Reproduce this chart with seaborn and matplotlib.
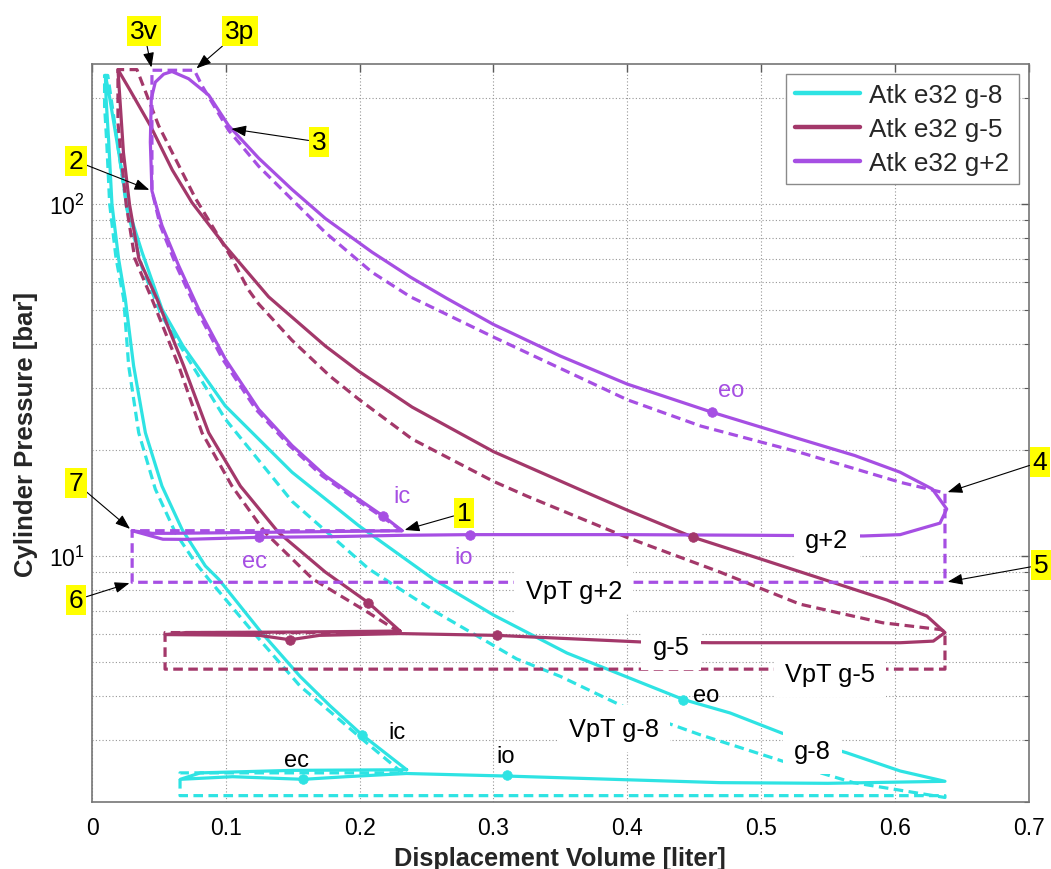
import matplotlib
matplotlib.use("Agg")
import numpy as np
import matplotlib.pyplot as plt
import seaborn as sns
from matplotlib.lines import Line2D
from matplotlib.ticker import FixedLocator, LogLocator, NullFormatter

# ---------------------------------------------------------------------------
# Cycle data: displacement volume [liter] and cylinder pressure [bar]
# ---------------------------------------------------------------------------
series_names = ["Atk e32 g-8", "Atk e32 g-5", "Atk e32 g+2"]

# Atk e32 g-8 : simulated cycle
g8_vol = [0.2352, 0.2015, 0.1780, 0.1555, 0.1260, 0.0947, 0.0847, 0.0673, 0.0523, 0.0399,
          0.0311, 0.0249, 0.0199, 0.0149, 0.0125, 0.0105, 0.0100,
          0.0125, 0.0200, 0.0260, 0.0374, 0.0523, 0.0680, 0.0996, 0.1495, 0.1993, 0.2551,
          0.3000, 0.3550, 0.4420, 0.4770, 0.5155, 0.5640, 0.6040, 0.6375,
          0.5500, 0.4694, 0.3100, 0.2350, 0.1900, 0.1580, 0.1050, 0.0660, 0.0810, 0.1500, 0.2352]
g8_pres = [2.47, 3.11, 3.75, 4.55, 6.10, 8.59, 9.37, 11.9, 15.8, 22.4,
           34.7, 53.7, 69.8, 100, 150, 200, 232,
           208, 140, 100, 73, 50.3, 39.5, 26.7, 17.3, 12.2, 8.6,
           6.8, 5.3, 3.91, 3.58, 3.14, 2.76, 2.45, 2.29,
           2.26, 2.27, 2.37, 2.41, 2.36, 2.32, 2.36, 2.32, 2.42, 2.46, 2.47]
# Atk e32 g-8 : ideal VpT cycle
g8_vpt_vol = [0.2320, 0.2050, 0.1555, 0.1200, 0.0872, 0.0772, 0.0623, 0.0473, 0.0349, 0.0274,
              0.0237, 0.0180, 0.0132, 0.0110, 0.0094, 0.0094, 0.0118, 0.0160, 0.0260, 0.0374,
              0.0523, 0.0996, 0.1495, 0.2067, 0.2551, 0.3174, 0.3500, 0.4020, 0.4540, 0.5290,
              0.5690, 0.6375, 0.6375, 0.0658, 0.0658, 0.2320]
g8_vpt_pres = [2.42, 2.95, 4.27, 6.1, 8.59, 9.58, 11.65, 15.5, 22.4, 34.7,
               53.7, 70, 100, 150, 190, 232, 232, 180, 97, 66,
               48, 24.5, 14.3, 9.2, 7.0, 5.1, 4.55, 3.66, 3.11, 2.52,
               2.27, 2.06, 2.085, 2.085, 2.42, 2.42]
# valve events ic, eo, ec, io
g8_event_vol = [0.2015, 0.4420, 0.1580, 0.3100]
g8_event_pres = [3.11, 3.91, 2.32, 2.39]

# Atk e32 g-5 : simulated cycle
g5_vol = [0.2302, 0.2065, 0.1744, 0.1395, 0.1109, 0.0872, 0.0685, 0.0486, 0.0350, 0.0280,
          0.0235, 0.0194,
          0.0280, 0.0436, 0.0600, 0.0747, 0.0996, 0.1320, 0.1420, 0.1744, 0.1993, 0.2392,
          0.3000, 0.3670, 0.4000, 0.4494, 0.5000, 0.5460, 0.5940, 0.6240, 0.6375,
          0.6288, 0.6040, 0.4631, 0.4096, 0.3024, 0.2302, 0.1700, 0.1480, 0.1250, 0.0546,
          0.0700, 0.1500, 0.2302]
g5_pres = [6.12, 7.37, 9.0, 11.65, 15.8, 22.4, 34.7, 53.7, 70, 100,
           140, 241,
           212, 167, 125, 101, 76, 54.5, 50.5, 39.5, 33.5, 26.5,
           19.8, 15.3, 13.5, 11.3, 9.8, 8.6, 7.5, 6.75, 6.06,
           5.73, 5.67, 5.67, 5.70, 5.95, 6.02, 5.95, 5.78, 5.95, 5.98,
           6.06, 6.08, 6.12]
# Atk e32 g-5 : ideal VpT cycle
g5_vpt_vol = [0.2302, 0.2040, 0.1650, 0.1295, 0.1046, 0.0822, 0.0648, 0.0448, 0.0320, 0.0255,
              0.0215, 0.0194, 0.0194, 0.0336, 0.0498, 0.0772, 0.1046, 0.1170, 0.1246, 0.1495,
              0.1780, 0.1993, 0.2392, 0.3000, 0.3250, 0.3996, 0.4694, 0.5290, 0.5910, 0.6340,
              0.6375, 0.6375, 0.0546, 0.0546, 0.2302]
g5_vpt_pres = [6.06, 7.0, 8.6, 11.65, 15.8, 22.4, 34.7, 53.7, 70, 100,
               140, 170, 241, 241, 167, 104, 70, 57, 52, 41,
               32.4, 27.9, 21.5, 16.3, 14.8, 11.3, 9.0, 7.3, 6.46, 6.18,
               6.1, 4.77, 4.77, 6.06, 6.06]
g5_event_vol = [0.2065, 0.4494, 0.1480, 0.3024]
g5_event_pres = [7.37, 11.3, 5.78, 5.98]

# Atk e32 g+2 : simulated cycle
g2_vol = [0.2317, 0.2192, 0.1993, 0.1744, 0.1495, 0.1246, 0.0996, 0.0797, 0.0648, 0.0523,
          0.0448, 0.0436, 0.0443, 0.0473, 0.0536, 0.0598, 0.0722, 0.0872, 0.1021, 0.1246,
          0.1495, 0.1744, 0.2093, 0.2380, 0.2650, 0.3000, 0.3500, 0.4000, 0.4636, 0.5290,
          0.5700, 0.6040, 0.6280, 0.6388, 0.6338, 0.6040, 0.5765, 0.5000, 0.4000, 0.2825,
          0.2317, 0.1800, 0.1250, 0.0700, 0.0530, 0.0300, 0.0450, 0.0600, 0.1500, 0.2317]
g2_pres = [11.8, 12.86, 14.5, 16.9, 20.6, 26.1, 36.3, 50.3, 66.8, 86.9,
           109, 150, 199, 222, 234, 238, 227, 204, 167, 135,
           110, 91, 73, 62, 54, 45.5, 37, 30.8, 25.6, 21.5,
           19.3, 17.3, 15.5, 13.6, 12.4, 11.5, 11.4, 11.45, 11.5, 11.5,
           11.45, 11.35, 11.3, 11.15, 11.16, 11.8, 11.6, 11.6, 11.7, 11.8]
# Atk e32 g+2 : ideal VpT cycle (state points 1-2-3v-3p-3-4-5-6-7)
g2_vpt_vol = [0.2317, 0.2170, 0.1970, 0.1720, 0.1475, 0.1225, 0.0975, 0.0780, 0.0630, 0.0510,
              0.0448, 0.0448, 0.0765, 0.0822, 0.1021, 0.1246, 0.1495, 0.1744, 0.2093, 0.2380,
              0.3000, 0.4000, 0.4550, 0.5290, 0.6040, 0.6375, 0.6375, 0.0300, 0.0300, 0.2317]
g2_vpt_pres = [11.8, 12.9, 14.5, 16.9, 20.6, 26.1, 36.3, 50.3, 66.8, 86.9,
               109, 240, 240, 217, 162, 128, 103, 83, 64, 54.5,
               41.9, 27.8, 23.4, 19.7, 16.2, 15.1, 8.42, 8.42, 11.8, 11.8]
g2_event_vol = [0.2177, 0.4636, 0.1250, 0.2825]
g2_event_pres = [13.0, 25.6, 11.3, 11.5]

event_names = ["ic", "eo", "ec", "io"]

# VpT g+2 state points that carry a callout
state_names = ["3v", "3p", "2", "3", "1", "4", "5", "6", "7"]
state_vol = [0.0448, 0.0765, 0.0448, 0.1021, 0.2317, 0.6375, 0.6375, 0.0300, 0.0300]
state_pres = [240, 240, 109, 164, 11.8, 15.1, 8.42, 8.42, 11.8]

x_ticks = [0, 0.1, 0.2, 0.3, 0.4, 0.5, 0.6, 0.7]
x_tick_labels = ["0", "0.1", "0.2", "0.3", "0.4", "0.5", "0.6", "0.7"]

# ---------------------------------------------------------------------------
# Style
# ---------------------------------------------------------------------------
sns.set_theme(style="white")
plt.rcParams["font.family"] = ["Liberation Sans", "DejaVu Sans"]
plt.rcParams["mathtext.fontset"] = "custom"
plt.rcParams["mathtext.rm"] = "Liberation Sans"
plt.rcParams["mathtext.it"] = "Liberation Sans:italic"
plt.rcParams["mathtext.bf"] = "Liberation Sans:bold"
plt.rcParams["mathtext.default"] = "regular"

CYAN = "#2EE3E3"
MAROON = "#A3386A"
PURPLE = "#A64FE3"
colors = [CYAN, MAROON, PURPLE]

W, H = 1051, 870
fig = plt.figure(figsize=(W / 100, H / 100), dpi=100)
ax = fig.add_axes([92 / W, 1 - 803 / H, (1028.6 - 92) / W, (803 - 65) / H])
ax.set_yscale("log")


def trace(vol, pres, color, dashed=False):
    sns.lineplot(x=vol, y=pres, sort=False, estimator=None, color=color,
                 linewidth=2.3, ax=ax, zorder=3)
    line = ax.lines[-1]
    line.set_solid_joinstyle("round")
    if dashed:
        line.set_dashes((3.0, 1.7))


def events(vol, pres, color):
    sns.scatterplot(x=vol, y=pres, color=color, s=48, marker="o",
                    edgecolor=color, linewidth=0.5, ax=ax, zorder=5)


trace(g8_vpt_vol, g8_vpt_pres, CYAN, dashed=True)
trace(g8_vol, g8_pres, CYAN)
trace(g5_vpt_vol, g5_vpt_pres, MAROON, dashed=True)
trace(g5_vol, g5_pres, MAROON)
trace(g2_vpt_vol, g2_vpt_pres, PURPLE, dashed=True)
trace(g2_vol, g2_pres, PURPLE)

events(g8_event_vol, g8_event_pres, CYAN)
events(g5_event_vol, g5_event_pres, MAROON)
events(g2_event_vol, g2_event_pres, PURPLE)

# ---------------------------------------------------------------------------
# Axes, ticks, grid
# ---------------------------------------------------------------------------
ax.set_xlim(0, 0.7)
ax.set_ylim(2, 250)
ax.xaxis.set_major_locator(FixedLocator(x_ticks))
ax.set_xticklabels(x_tick_labels)
ax.yaxis.set_major_locator(LogLocator(base=10))
ax.yaxis.set_minor_locator(LogLocator(base=10, subs=np.arange(2, 10)))
ax.yaxis.set_minor_formatter(NullFormatter())

ax.tick_params(which="both", direction="in", top=True, right=True,
               color="#5a5a5a", labelcolor="black", labelsize=16.5)
ax.tick_params(which="major", length=6, width=1.0)
ax.tick_params(which="minor", length=3.5, width=0.8)
ax.tick_params(axis="x", pad=10)
ax.tick_params(axis="y", pad=5)

grid_style = dict(color="#969696", linewidth=0.8, linestyle=(0, (1, 2)))
ax.grid(True, which="major", axis="both", **grid_style)
ax.grid(True, which="minor", axis="y", **grid_style)
ax.set_axisbelow(True)

for s in ax.spines.values():
    s.set_visible(True)
    s.set_color("#767676")
    s.set_linewidth(1.2)

ax.set_xlabel("Displacement Volume [liter]", fontsize=18.3, fontweight="bold", labelpad=5)
ax.set_ylabel("Cylinder Pressure [bar]", fontsize=18.5, fontweight="bold", labelpad=8)

# ---------------------------------------------------------------------------
# Legend
# ---------------------------------------------------------------------------
handles = [Line2D([], [], color=c, linewidth=3.2) for c in colors]
leg = ax.legend(handles, series_names, loc="upper right", fontsize=18.8,
                frameon=True, fancybox=False, framealpha=1, edgecolor="#8a8a8a",
                handlelength=2.5, handletextpad=0.35, labelspacing=0.38,
                borderpad=0.35, borderaxespad=0.38)
leg.get_frame().set_linewidth(1.0)
leg.set_zorder(20)

# ---------------------------------------------------------------------------
# Valve-event and cycle labels
# ---------------------------------------------------------------------------
g2_event_label_pos = [(0.2315, 14.8), (0.4775, 29.6), (0.1215, 9.69), (0.278, 9.91)]
g8_event_label_pos = [(0.228, 3.17), (0.459, 4.02), (0.1525, 2.64), (0.3094, 2.71)]
for name, (x, y) in zip(event_names, g2_event_label_pos):
    ax.text(x, y, name, color=PURPLE, fontsize=17, ha="center", va="center", zorder=7)
for name, (x, y) in zip(event_names, g8_event_label_pos):
    ax.text(x, y, name, color="black", fontsize=17, ha="center", va="center", zorder=7)

cycle_labels = [("g+2", 0.549, 11.08), ("g-5", 0.4327, 5.53), ("g-8", 0.5385, 2.80),
                ("VpT g+2", 0.360, 7.97), ("VpT g-5", 0.5516, 4.63), ("VpT g-8", 0.390, 3.23)]
for text, x, y in cycle_labels:
    ax.text(x, y, text, color="black", fontsize=18.3, ha="center", va="center", zorder=8,
            bbox=dict(boxstyle="square,pad=0.45", fc="white", ec="none"))

# ---------------------------------------------------------------------------
# Yellow state-point callouts with arrows
# ---------------------------------------------------------------------------
callout_pixels = [(144, 32), (240, 32), (76, 162), (319, 143), (464, 514),
                  (1040, 463), (1041, 566), (76, 601), (76, 484)]
for name, v, p, (px, py) in zip(state_names, state_vol, state_pres, callout_pixels):
    ax.annotate(name, xy=(v, p), xycoords="data",
                xytext=(px, H - py), textcoords="figure pixels",
                ha="center", va="center", fontsize=19, color="black",
                bbox=dict(boxstyle="square,pad=0.12", fc="#FFFF00", ec="none"),
                arrowprops=dict(arrowstyle="-|>,head_length=0.75,head_width=0.28",
                                mutation_scale=12, color="black", lw=0.8,
                                shrinkA=0, shrinkB=2),
                annotation_clip=False, zorder=15)

fig.savefig("out.png", dpi=100)
